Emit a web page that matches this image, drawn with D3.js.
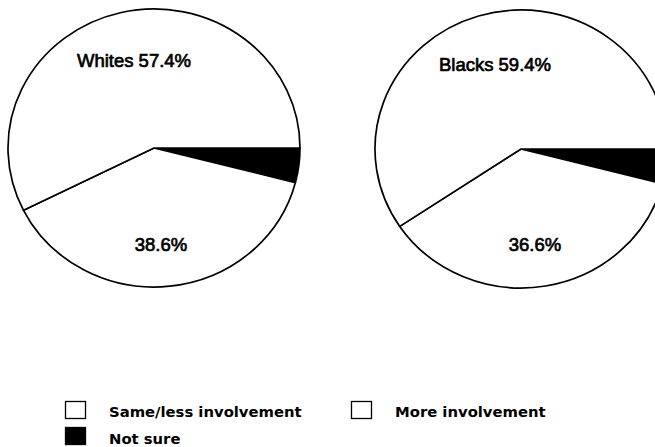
<!DOCTYPE html>
<html>
<head>
<meta charset="utf-8">
<script src="https://cdn.jsdelivr.net/npm/d3@7"></script>
<style>
  html, body { margin: 0; padding: 0; background: #fff; }
  svg { display: block; }
</style>
</head>
<body>
<script>
// Survey groups and their answer shares (percent)
const groups = ["Whites", "Blacks"];
const categories = ["Not sure", "Same/less involvement", "More involvement"];
const notSure = [4.0, 4.0];
const sameLess = [38.6, 36.6];
const more = [57.4, 59.4];
const fills = {"Not sure": "#000", "Same/less involvement": "#fff", "More involvement": "#fff"};

// Legend order and rows
const legendItems = ["Same/less involvement", "More involvement", "Not sure"];

const W = 655, H = 447;
const svg = d3.select("body").append("svg").attr("width", W).attr("height", H);
svg.append("rect").attr("width", W).attr("height", H).attr("fill", "#fff");

// Pie layout: slices run clockwise from 3 o'clock
const pie = d3.pie().sort(null).value(d => d.value)
  .startAngle(Math.PI / 2).endAngle(Math.PI / 2 + 2 * Math.PI);
const ry = 139, rx = 146;
const arc = d3.arc().innerRadius(0).outerRadius(ry);

const layout = [
  {cx: 154, cy: 148, big: [-20, -81], small: [7, 103]},
  {cx: 521, cy: 149, big: [-26, -78], small: [14, 102]}
];

const fmt = v => d3.format(".1f")(v) + "%";

groups.forEach((name, i) => {
  const data = [
    {key: categories[0], value: notSure[i]},
    {key: categories[1], value: sameLess[i]},
    {key: categories[2], value: more[i]}
  ];
  const L = layout[i];
  const g = svg.append("g")
    .attr("transform", `translate(${L.cx},${L.cy}) scale(${rx / ry},1)`);
  g.selectAll("path").data(pie(data)).join("path")
    .attr("d", arc)
    .attr("fill", d => fills[d.data.key])
    .attr("stroke", "#000")
    .attr("stroke-width", 1.7)
    .attr("stroke-linejoin", "round")
    .attr("vector-effect", "non-scaling-stroke");

  const lab = svg.append("g")
    .attr("font-family", "'Liberation Sans', Arial, sans-serif")
    .attr("font-size", 18.5)
    .attr("fill", "#000")
    .attr("stroke", "#000")
    .attr("stroke-width", 0.7)
    .attr("text-anchor", "middle");
  lab.append("text")
    .attr("x", L.cx + L.big[0]).attr("y", L.cy + L.big[1])
    .text(`${name} ${fmt(more[i])}`);
  lab.append("text")
    .attr("x", L.cx + L.small[0]).attr("y", L.cy + L.small[1])
    .text(fmt(sameLess[i]));
});

// Legend
const legendPos = {
  "Same/less involvement": [65, 401, 417],
  "More involvement": [351, 401, 417],
  "Not sure": [65, 427, 444]
};
const leg = svg.append("g");
legendItems.forEach(k => {
  const [x, y, base] = legendPos[k];
  leg.append("rect")
    .attr("x", x + 0.5).attr("y", y + 0.5)
    .attr("width", 20).attr("height", 17)
    .attr("fill", fills[k])
    .attr("stroke", "#000").attr("stroke-width", 1.3);
  leg.append("text")
    .attr("x", x + 44).attr("y", base)
    .attr("font-family", "'DejaVu Sans', sans-serif")
    .attr("font-size", 14.8)
    .attr("font-weight", "bold")
    .attr("fill", "#000")
    .text(k);
});
</script>
</body>
</html>
